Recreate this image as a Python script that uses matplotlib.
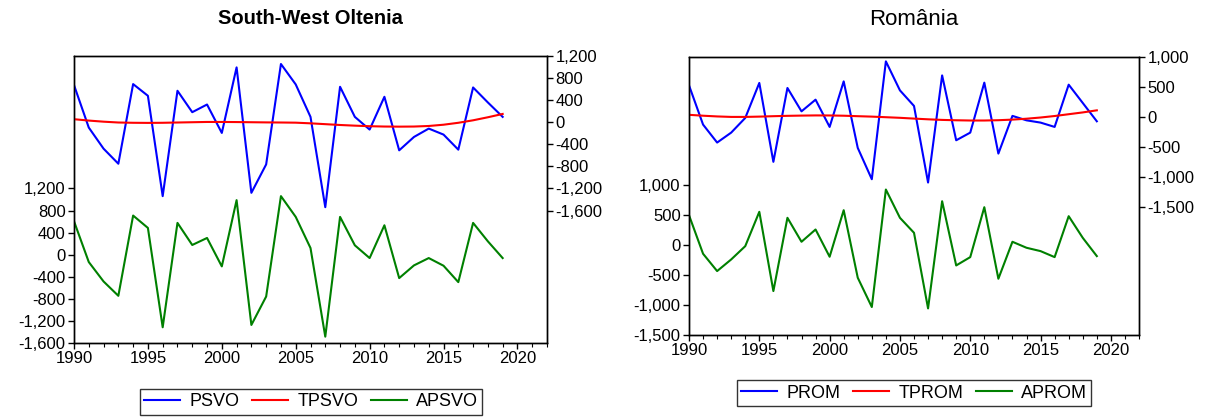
import matplotlib.pyplot as plt
from matplotlib.ticker import FuncFormatter, MultipleLocator

plt.rcParams['font.family'] = ['Liberation Sans', 'DejaVu Sans']

years = list(range(1990, 2020))

# South-West Oltenia
psvo = [673, -97, -479, -752, 691, 479, -1339, 570, 182, 321,
        -194, 994, -1279, -764, 1055, 685, 97, -1539, 642, 97,
        -133, 461, -509, -267, -115, -224, -497, 630, 358, 97]
tpsvo = [55, 30, 10, -5, -10, -12, -10, -5, 0, 5,
         5, 3, 0, -3, -5, -8, -20, -35, -50, -62,
         -72, -78, -80, -78, -68, -45, -10, 35, 90, 150]
apsvo = [606, -133, -485, -745, 709, 485, -1315, 576, 176, 303,
         -212, 988, -1273, -758, 1061, 685, 121, -1485, 685, 170,
         -61, 533, -424, -194, -61, -200, -497, 576, 242, -61]

# Romania
prom = [527, -128, -428, -262, -17, 567, -750, 483, 93, 288,
        -167, 593, -517, -1040, 927, 443, 183, -1095, 693, -390,
        -262, 572, -612, 17, -57, -95, -167, 538, 233, -73]
tprom = [35, 20, 8, 0, 0, 5, 12, 18, 22, 25,
         24, 20, 12, 5, -5, -15, -28, -40, -50, -56,
         -60, -60, -55, -45, -30, -10, 15, 45, 75, 110]
aprom = [500, -144, -433, -239, -17, 556, -767, 456, 56, 261,
         -194, 583, -544, -1033, 928, 456, 206, -1056, 733, -339,
         -200, 633, -561, 56, -44, -100, -200, 483, 122, -183]

W, H = 1209, 417
fig = plt.figure(figsize=(W / 100, H / 100), dpi=100)

fmt = FuncFormatter(lambda v, p: f"{int(v):,}")


def panel(box, title, bold, tsize, top, trend, low, names, right_lim, left_lim,
          right_ticks, left_ticks, legend_box):
    x0, y0, x1, y1 = box
    ax = fig.add_axes([x0 / W, 1 - y1 / H, (x1 - x0) / W, (y1 - y0) / H])
    axr = ax.twinx()
    l3, = ax.plot(years, low, color='#008000', lw=1.5)
    l1, = axr.plot(years, top, color='#0000ff', lw=1.5)
    l2, = axr.plot(years, trend, color='#ff0000', lw=1.5)
    ax.set_xlim(1990, 2022)
    ax.set_ylim(*left_lim)
    axr.set_ylim(*right_lim)
    ax.set_yticks(left_ticks)
    axr.set_yticks(right_ticks)
    ax.yaxis.set_major_formatter(fmt)
    axr.yaxis.set_major_formatter(fmt)
    ax.xaxis.set_major_locator(MultipleLocator(5))
    ax.xaxis.set_minor_locator(MultipleLocator(1))
    for a in (ax, axr):
        a.tick_params(direction='out', labelsize=12, length=4, width=1,
                      colors='black', pad=2)
        for s in a.spines.values():
            s.set_linewidth(1)
    ax.tick_params(axis='x', which='minor', length=3, width=0.8)
    ax.set_title(title, fontsize=tsize, fontweight='bold' if bold else 'normal',
                 pad=23)
    leg = fig.legend([l1, l2, l3], names, loc='center',
                     bbox_to_anchor=legend_box, ncol=3, fontsize=13,
                     frameon=True, fancybox=False, edgecolor='black',
                     handlelength=2.0, columnspacing=0.7, handletextpad=0.5,
                     borderpad=0.25)
    leg.get_frame().set_linewidth(1)
    return ax


panel((74, 56, 547, 343), "South-West Oltenia", True, 14.5, psvo, tpsvo, apsvo,
      ['PSVO', 'TPSVO', 'APSVO'], (-4000, 1200), (-1600, 3600),
      [1200, 800, 400, 0, -400, -800, -1200, -1600],
      [-1600, -1200, -800, -400, 0, 400, 800, 1200],
      (311 / W, 1 - 402 / H))

panel((689, 57, 1139, 335), "România", False, 16, prom, tprom, aprom,
      ['PROM', 'TPROM', 'APROM'], (-3640, 1000), (-1500, 3140),
      [1000, 500, 0, -500, -1000, -1500],
      [-1500, -1000, -500, 0, 500, 1000],
      (914 / W, 1 - 393 / H))

fig.savefig('out.png', dpi=100)
